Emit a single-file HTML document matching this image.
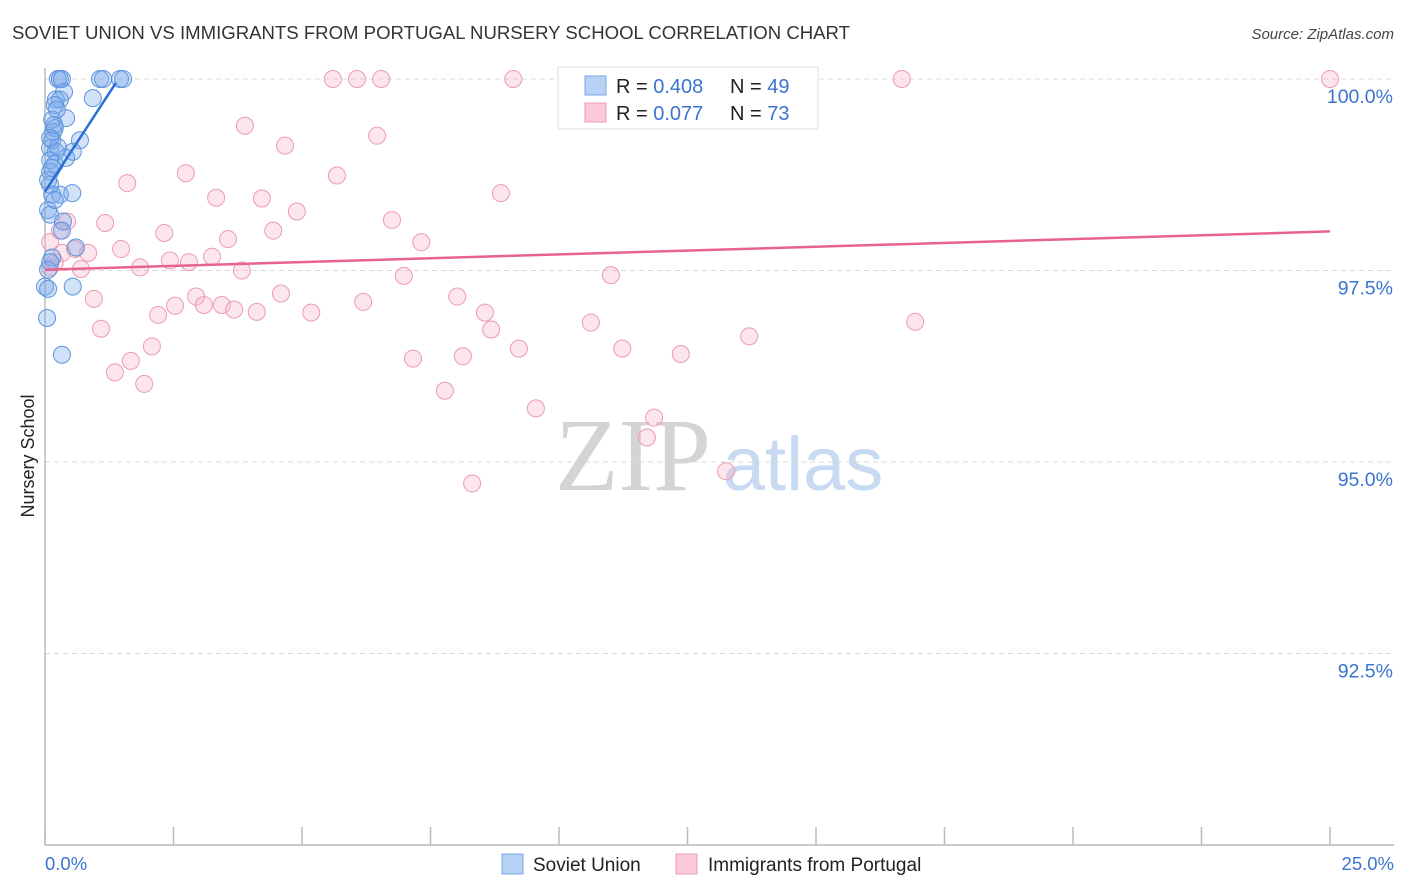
<!DOCTYPE html>
<html><head><meta charset="utf-8">
<style>
body{margin:0;background:#fff;font-family:"Liberation Sans",sans-serif;}
#wrap{position:relative;width:1406px;height:892px;overflow:hidden;}
svg{position:absolute;left:0;top:0;}
</style></head>
<body>
<div id="wrap">
<svg id="chart" width="1406" height="892">
  <text x="12" y="39" font-size="18" fill="#333" textLength="838" lengthAdjust="spacingAndGlyphs">SOVIET UNION VS IMMIGRANTS FROM PORTUGAL NURSERY SCHOOL CORRELATION CHART</text>
  <text x="1394" y="39" font-size="15" fill="#444" font-style="italic" text-anchor="end">Source: ZipAtlas.com</text>
  <text x="633" y="490" font-size="104" fill="#d4d4d4" font-family="Liberation Serif,serif" text-anchor="middle">ZIP</text>
  <text x="803" y="490" font-size="76" fill="#c8daf2" text-anchor="middle">atlas</text>
  <g id="grid"></g>
  <g id="axes"></g>
  <g id="pink"></g>
  <g id="blue"></g>
  <g id="trends"></g>
  <text transform="translate(34,456) rotate(-90)" font-size="18" fill="#222" text-anchor="middle">Nursery School</text>
  <g>
    <rect x="558" y="67" width="260" height="62" fill="#fff" stroke="#ddd"/>
    <rect x="585" y="76" width="21" height="19" fill="#b7d2f5" stroke="#7aa7e6"/>
    <rect x="585" y="103" width="21" height="19" fill="#fbcad8" stroke="#ee9ab5"/>
    <text x="616" y="93" font-size="20" fill="#222">R = <tspan fill="#3b74d0">0.408</tspan></text>
    <text x="730" y="93" font-size="20" fill="#222">N = <tspan fill="#3b74d0">49</tspan></text>
    <text x="616" y="120" font-size="20" fill="#222">R = <tspan fill="#3b74d0"> 0.077</tspan></text>
    <text x="730" y="120" font-size="20" fill="#222">N = <tspan fill="#3b74d0">73</tspan></text>
  </g>
  <g>
    <rect x="502" y="854" width="21" height="20" fill="#b7d2f5" stroke="#7aa7e6"/>
    <text x="533" y="871" font-size="19" fill="#222">Soviet Union</text>
    <rect x="676" y="854" width="21" height="20" fill="#fbcad8" stroke="#ee9ab5"/>
    <text x="708" y="871" font-size="19" fill="#222">Immigrants from Portugal</text>
  </g>
</svg>
</div>
<script>
const blueX=[0.25,0.29,0.33,1.07,1.13,1.46,1.52,0.37,0.21,0.29,0.93,0.14,0.41,0.19,0.16,0.14,0.68,0.1,0.21,0.54,0.1,0.19,0.1,0.14,0.29,0.53,0.06,0.1,0.35,0.33,0.6,0.14,0.1,0.06,0,0.06,0.54,0.04,0.33,0.19,0.23,0.1,0.19,0.06,0.14,0.41,0.25,0.18,0.1];
const blueY=[100,100,100,100,100,100,100,99.83,99.73,99.73,99.75,99.47,99.49,99.36,99.31,99.2,99.2,99.1,99.05,99.05,98.94,98.89,98.79,98.49,98.49,98.51,98.29,98.23,98.14,98.02,97.8,97.67,97.61,97.51,97.29,97.26,97.29,96.88,96.4,99.66,99.6,98.62,98.42,98.68,98.84,98.97,99.11,99.4,99.23];
const pinkX=[5.6,6.07,6.54,9.11,13.85,16.67,25.0,3.89,6.46,4.67,2.74,5.68,1.6,8.87,3.33,4.22,4.9,6.75,0.43,1.17,2.32,4.44,3.56,7.32,1.48,0.58,0.84,0.33,3.25,2.43,2.8,1.85,0.7,3.83,6.98,11.01,0.1,0.95,2.94,4.59,8.02,6.19,2.53,3.44,3.09,3.68,4.12,5.18,8.56,2.2,10.62,16.93,1.09,8.68,2.08,13.7,9.22,11.23,12.37,7.16,8.13,1.67,1.36,1.93,7.78,9.55,11.85,11.71,13.25,8.31,0.1,0.29,0.19];
const pinkY=[100,100,100,100,100,100,100,99.39,99.26,99.13,98.77,98.74,98.64,98.51,98.45,98.44,98.27,98.16,98.14,98.12,97.99,98.02,97.91,97.87,97.78,97.78,97.73,97.73,97.68,97.63,97.61,97.54,97.52,97.5,97.43,97.44,97.54,97.13,97.16,97.2,97.16,97.09,97.04,97.05,97.05,96.99,96.96,96.95,96.95,96.92,96.82,96.83,96.74,96.73,96.51,96.64,96.48,96.48,96.41,96.35,96.38,96.32,96.17,96.02,95.93,95.7,95.58,95.32,94.88,94.72,97.87,98.02,97.61];
const blueTrendX=[0,1.38];
const blueTrendY=[98.53,99.95];
const pinkTrendX=[0,25];
const pinkTrendY=[97.51,98.01];
const yTicks=[100,97.5,95,92.5];
const yTickLabels=["100.0%","97.5%","95.0%","92.5%"];
const xTicks=[0,2.5,5,7.5,10,12.5,15,17.5,20,22.5,25];
const xEndLabels=["0.0%","25.0%"];

const NS="http://www.w3.org/2000/svg";
const X0=45,X1=1330,Y0=79,Y1=845;
const xs=v=>X0+(v-0)/25*(X1-X0);
const ys=v=>Y0+(100-v)/10*(Y1-Y0);
function mk(tag,attrs,parent){const e=document.createElementNS(NS,tag);for(const k in attrs)e.setAttribute(k,attrs[k]);parent.appendChild(e);return e;}
const grid=document.getElementById('grid'),axes=document.getElementById('axes');
yTicks.forEach((t,i)=>{
  const l=mk('line',{x1:X0,x2:1394,y1:ys(t),y2:ys(t),stroke:'#d8d8d8','stroke-dasharray':'5,4'},grid);
  
  
  const tx=mk('text',{x:1393,y:ys(t)+24,'font-size':19.5,fill:'#3b74d0','text-anchor':'end'},grid);
  tx.textContent=yTickLabels[i];
  
  
});
let a=mk('line',{x1:X0,x2:X0,y1:68,y2:Y1,stroke:'#bbb','stroke-width':1.5},axes);


a=mk('line',{x1:X0,x2:1394,y1:Y1,y2:Y1,stroke:'#bbb','stroke-width':1.5},axes);


xTicks.forEach(t=>{
  const l=mk('line',{x1:xs(t),x2:xs(t),y1:827,y2:Y1,stroke:'#bbb','stroke-width':1.5},axes);
  
  
});
let t0=mk('text',{x:45,y:870,'font-size':18.5,fill:'#3b74d0'},axes);t0.textContent=xEndLabels[0];


let t1=mk('text',{x:1394,y:870,'font-size':18.5,fill:'#3b74d0','text-anchor':'end'},axes);t1.textContent=xEndLabels[1];


const pg=document.getElementById('pink'),bg=document.getElementById('blue');
pinkX.forEach((v,i)=>{
  const c=mk('circle',{cx:xs(v),cy:ys(pinkY[i]),r:8.5,fill:'rgba(248,180,200,0.35)',stroke:'#ec9bb4','stroke-width':1},pg);
  
  
});
blueX.forEach((v,i)=>{
  const c=mk('circle',{cx:xs(v),cy:ys(blueY[i]),r:8.5,fill:'rgba(120,170,235,0.35)',stroke:'#5f95de','stroke-width':1},bg);
  
  
});
const tg=document.getElementById('trends');
let tl=mk('line',{x1:xs(pinkTrendX[0]),y1:ys(pinkTrendY[0]),x2:xs(pinkTrendX[1]),y2:ys(pinkTrendY[1]),stroke:'#e8628e','stroke-width':2.5},tg);


tl=mk('line',{x1:xs(blueTrendX[0]),y1:ys(blueTrendY[0]),x2:xs(blueTrendX[1]),y2:ys(blueTrendY[1]),stroke:'#2a6fd6','stroke-width':2.5},tg);


</script>
</body></html>
